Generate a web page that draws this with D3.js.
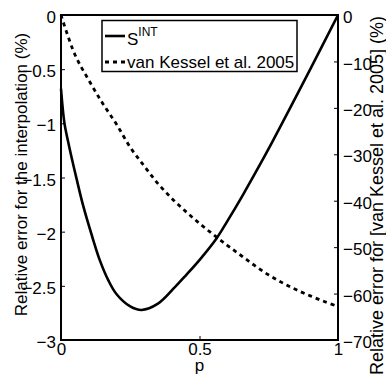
<!DOCTYPE html>
<html>
<head>
<meta charset="utf-8">
<script src="https://cdn.jsdelivr.net/npm/d3@7"></script>
<style>
  body { margin: 0; background: #fff; }
  text { font-family: "Liberation Sans", Arial, Helvetica, sans-serif; fill: #000; }
</style>
</head>
<body>
<svg id="grafico"></svg>
<script>
// Dados
var pInt   = [0, 0.005, 0.0125, 0.03, 0.057, 0.08, 0.112, 0.141, 0.171, 0.2, 0.25, 0.291,
              0.35, 0.412, 0.45, 0.502, 0.562, 0.6, 0.658, 0.7, 0.761, 0.833, 0.9, 1];
var erroInt = [-0.68, -0.83, -1.0, -1.22, -1.52, -1.76, -2.04, -2.27, -2.45, -2.575, -2.69, -2.723,
               -2.665, -2.51, -2.405, -2.255, -2.06, -1.905, -1.655, -1.465, -1.18, -0.83, -0.5, 0];

var pKessel    = [0, 0.05, 0.1, 0.15, 0.2, 0.25, 0.3, 0.35, 0.4, 0.45, 0.5,
                  0.55, 0.6, 0.65, 0.7, 0.75, 0.8, 0.85, 0.9, 0.95, 1];
var erroKessel = [0, -8.5, -14, -19, -23.5, -28.5, -32.5, -36.3, -39.5, -42.3, -44.9,
                  -47.3, -49.6, -51.8, -54, -56, -57.7, -59.2, -60.5, -61.7, -62.8];

var ticksX = [0, 0.5, 1];
var ticksEsq = [0, -0.5, -1, -1.5, -2, -2.5, -3];
var ticksDir = [0, -10, -20, -30, -40, -50, -60, -70];
var legendas = ['S', 'van Kessel et al. 2005'];

var largura = 386, altura = 380;
var margem = { esquerda: 61, direita: 48, superior: 15, inferior: 40 };
var w = largura - margem.esquerda - margem.direita;
var h = altura - margem.superior - margem.inferior;

var svg = d3.select('#grafico').attr('width', largura).attr('height', altura);
var plot = svg.append('g')
              .attr('transform', 'translate(' + margem.esquerda + ',' + margem.superior + ')');

// Escalas
var x = d3.scaleLinear().domain([0, 1]).range([0, w]);
var yE = d3.scaleLinear().domain([-3, 0]).range([h, 0]);
var yD = d3.scaleLinear().domain([-70, 0]).range([h, 0]);

var fonte = 17;

// Eixos (ticks para dentro, estilo MATLAB)
var eixoX = d3.axisBottom(x).tickValues(ticksX).tickSize(-4).tickPadding(3)
              .tickFormat(d3.format('~g'));
var eixoE = d3.axisLeft(yE).tickValues(ticksEsq).tickSize(-4).tickPadding(5)
              .tickFormat(d => d3.format('~g')(d).replace('-', '\u2212'));
var eixoD = d3.axisRight(yD).tickValues(ticksDir).tickSize(-4).tickPadding(5)
              .tickFormat(d => d3.format('~g')(d).replace('-', '\u2212'));

function estilo(g) {
  g.select('.domain').remove();
  g.selectAll('line').attr('stroke', '#000').attr('stroke-width', 1);
  g.selectAll('text').attr('font-size', fonte).style('font-family', '"Liberation Sans", Arial, sans-serif');
}

plot.append('g').attr('transform', 'translate(0,' + h + ')').call(eixoX).call(estilo)
    .selectAll('text').attr('dy', '0.7em');
plot.append('g').call(eixoE).call(estilo).selectAll('text').attr('dy', '0.45em');
plot.append('g').attr('transform', 'translate(' + w + ',0)').call(eixoD).call(estilo)
    .selectAll('text').attr('dy', '0.45em');

// Caixa
plot.append('rect').attr('x', 0).attr('y', 0).attr('width', w).attr('height', h)
    .attr('fill', 'none').attr('stroke', '#000').attr('stroke-width', 2);

// Curvas
var linhaInt = d3.line().x(d => x(d[0])).y(d => yE(d[1])).curve(d3.curveCatmullRom.alpha(0.5));
var linhaKessel = d3.line().x(d => x(d[0])).y(d => yD(d[1])).curve(d3.curveCatmullRom.alpha(0.5));

plot.append('path').datum(d3.zip(pInt, erroInt))
    .attr('d', linhaInt).attr('fill', 'none').attr('stroke', '#000').attr('stroke-width', 2.6);
plot.append('path').datum(d3.zip(pKessel, erroKessel))
    .attr('d', linhaKessel).attr('fill', 'none').attr('stroke', '#000').attr('stroke-width', 2.8)
    .attr('stroke-dasharray', '4,4');

// Títulos dos eixos
svg.append('text').attr('x', margem.esquerda + w / 2).attr('y', 371)
   .attr('text-anchor', 'middle').attr('font-size', fonte).text('p');
svg.append('text').attr('transform', 'translate(27,' + (margem.superior + h / 2 - 3) + ') rotate(-90)')
   .attr('text-anchor', 'middle').attr('font-size', fonte)
   .text('Relative error for the interpolation (%)');
svg.append('text').attr('transform', 'translate(383,' + (margem.superior + h / 2 + 18) + ') rotate(-90)')
   .attr('text-anchor', 'middle').attr('font-size', 18)
   .text('Relative error for [van Kessel et al. 2005] (%)');

// Legenda
var leg = svg.append('g');
leg.append('rect').attr('x', 102).attr('y', 20.5).attr('width', 195).attr('height', 51)
   .attr('fill', '#fff').attr('stroke', '#000').attr('stroke-width', 1.5);
leg.append('line').attr('x1', 105).attr('x2', 125).attr('y1', 36).attr('y2', 36)
   .attr('stroke', '#000').attr('stroke-width', 2.6);
leg.append('line').attr('x1', 105).attr('x2', 126).attr('y1', 62).attr('y2', 62)
   .attr('stroke', '#000').attr('stroke-width', 2.8).attr('stroke-dasharray', '4,4');
var t1 = leg.append('text').attr('x', 127).attr('y', 45).attr('font-size', fonte);
t1.append('tspan').text(legendas[0]);
t1.append('tspan').attr('font-size', 12).attr('dy', -9).text('INT');
leg.append('text').attr('x', 127).attr('y', 68).attr('font-size', fonte).text(legendas[1]);
</script>
</body>
</html>
